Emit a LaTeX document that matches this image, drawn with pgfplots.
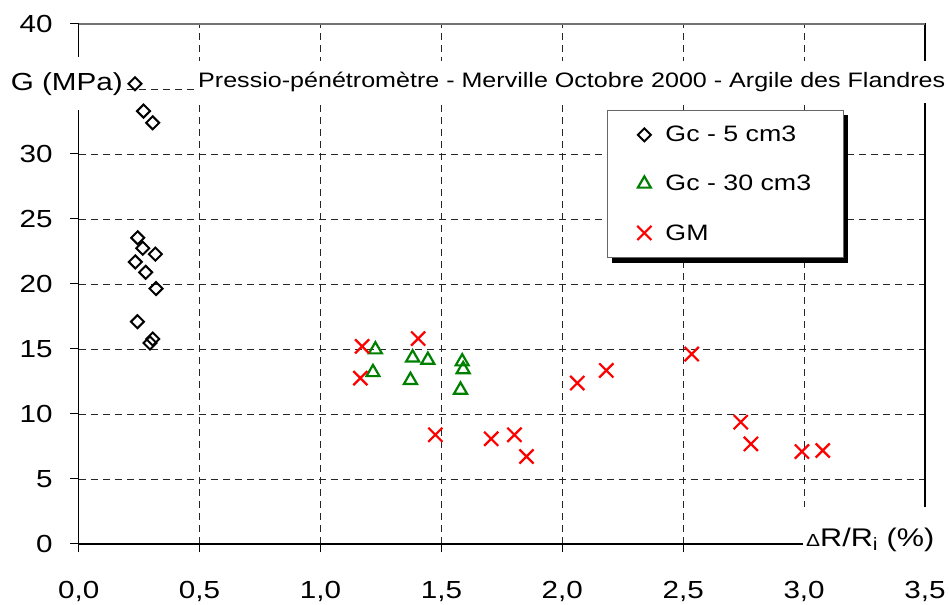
\documentclass[border=0pt]{standalone}
\usepackage{pgfplots}
\pgfplotsset{compat=1.18}
\usepackage{pgfplotstable}
\usepackage{fontspec}
\setmainfont{Liberation Sans}[FakeStretch=1.2]
\usetikzlibrary{shadows}
\definecolor{xlgreen}{RGB}{0,128,0}

% Gc - 5 cm3
\pgfplotstableread{
x y
0.233 35.4
0.268 33.3
0.306 32.4
0.244 23.55
0.265 22.75
0.317 22.3
0.234 21.7
0.277 20.9
0.320 19.65
0.243 17.1
0.306 15.77
0.295 15.46
}\gcfive

% Gc - 30 cm3
\pgfplotstableread{
x y
1.227 14.95
1.217 13.2
1.381 14.33
1.444 14.15
1.372 12.6
1.586 14.03
1.590 13.43
1.579 11.85
}\gcthirty

% GM
\pgfplotstableread{
x y
1.172 15.2
1.165 12.76
1.404 15.8
1.475 8.4
1.706 8.09
1.802 8.4
1.852 6.73
2.062 12.38
2.182 13.35
2.535 14.61
2.738 9.37
2.780 7.7
2.991 7.11
3.077 7.19
}\gm

\begin{document}
\begin{tikzpicture}
\begin{axis}[
  scale only axis, width=846.3pt, height=520pt,
  xmin=0, xmax=3.5, ymin=0, ymax=40,
  xtick={0,0.5,...,3.5}, ytick={0,5,...,40},
  yticklabels={0,5,10,15,20,25,30,,40},
  grid=major,
  major grid style={dash pattern=on 7pt off 5pt, black!85, line width=0.9pt},
  axis line style={line width=1.4pt, black},
  tick align=outside, tick pos=left,
  major tick length=8.5pt,
  tick style={black, line width=1pt},
  ticklabel style={font=\fontsize{24.7}{28}\selectfont},
  /pgf/number format/assume math mode=true,
  x tick label style={/pgf/number format/.cd, fixed, fixed zerofill, precision=1, use comma, /tikz/.cd,
    inner ysep=0pt, yshift=-29pt},
  y tick label style={xshift=-14pt},
  clip=false,
  legend cell align=left,
  legend style={at={(0.624,0.835)}, anchor=north west, draw=black!60, line width=1pt, fill=white,
    inner xsep=30pt, inner ysep=14pt, row sep=28pt, column sep=12pt, font=\fontsize{22.3}{26}\selectfont,
    drop shadow={shadow xshift=5pt, shadow yshift=-5pt, fill=black, opacity=1}},
]
\addplot[only marks, black, mark=square, mark size=4.6pt, mark options={rotate=45, line width=2pt}] table {\gcfive};
\addlegendentry{Gc - 5 cm3}
\addplot[only marks, xlgreen, mark=triangle, mark size=7.5pt, mark options={line width=2.2pt}] table {\gcthirty};
\addlegendentry{Gc - 30 cm3}
\addplot[only marks, red, mark=x, mark size=10pt, mark options={line width=2.2pt}] table {\gm};
\addlegendentry{GM}
\end{axis}
\draw[black!55, line width=1.6pt] (current axis.north west) -- (current axis.north east);
\node[fill=white, anchor=west, inner xsep=3pt, inner ysep=11.5pt, text height=15pt, text depth=4pt,
  font=\fontsize{20.9}{24}\selectfont]
  at ([shift={(116.3pt,462.2pt)}]current axis.south west)
  {Pressio-pénétromètre - Merville Octobre 2000 - Argile des Flandres};
\node[fill=white, anchor=east, inner xsep=3pt, inner ysep=15pt, text height=18pt, text depth=5pt,
  font=\fontsize{24.7}{28}\selectfont]
  at ([shift={(47.3pt,460pt)}]current axis.south west) {G (MPa)};
\node[fill=white, anchor=west, inner xsep=3pt, inner ysep=21.5pt, text height=18pt, text depth=5pt,
  font=\fontsize{25.5}{28}\selectfont]
  at ([shift={(724.3pt,4pt)}]current axis.south west)
  {{\fontsize{17.5}{20}\selectfont Δ}R/R\textsubscript{i} (\%)};
\pgfresetboundingbox
\path ([shift={(-78.7pt,-61pt)}]current axis.south west) rectangle ([shift={(24pt,24pt)}]current axis.north east);
\end{tikzpicture}
\end{document}
